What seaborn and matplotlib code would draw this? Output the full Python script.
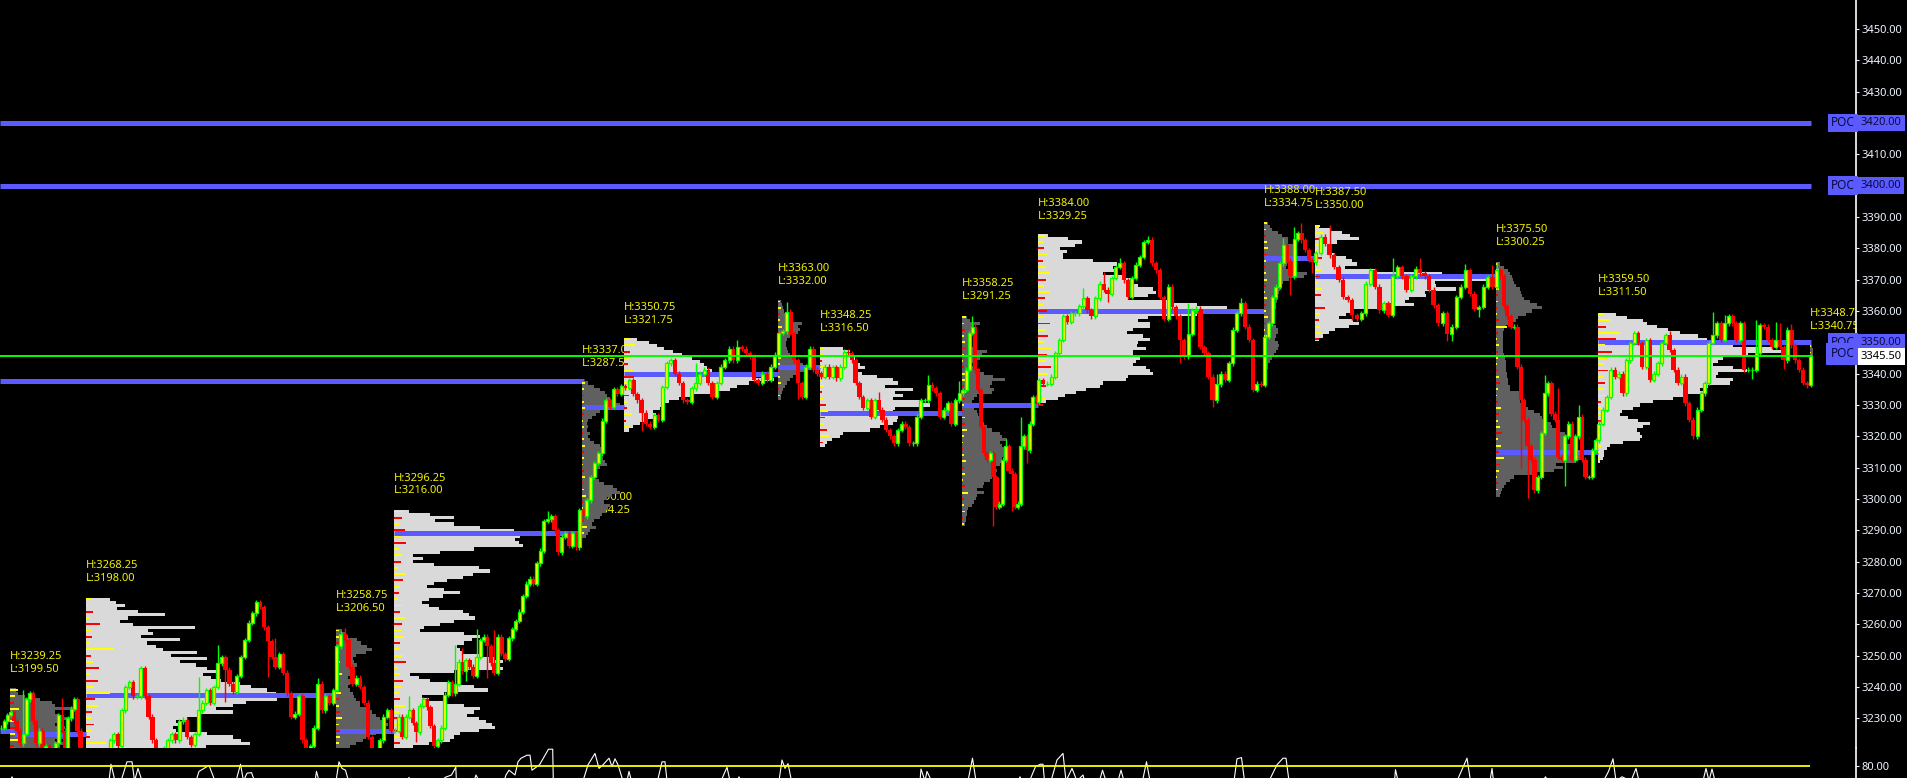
import numpy as np
import pandas as pd
import matplotlib
matplotlib.use("Agg")
import matplotlib.pyplot as plt
import seaborn as sns

# session start positions on the time axis (last one closes the last session)
sess_x = [0, 86, 336, 394, 582, 624, 778, 820, 962, 1038, 1264, 1315, 1496, 1598, 1810, 1813]
prof_x = [10, 86, 336, 394, 582, 624, 778, 820, 962, 1038, 1264, 1315, 1496, 1598, 1810]
sess_top = [3239, 3268, 3258, 3296, 3337, 3351, 3363, 3348, 3358, 3384, 3388, 3387, 3375, 3359, 3348.75]
sess_dark = [1, 0, 1, 0, 1, 0, 1, 0, 1, 0, 1, 0, 1, 0, 1]

# H / L labels
lab_x = [10, 86, 336, 394, 582, 581, 624, 778, 820, 962, 1038, 1264, 1315, 1496, 1598, 1810]
lab_h = [3239.25, 3268.25, 3258.75, 3296.25, 3337.00, 3290.00, 3350.75, 3363.00, 3348.25, 3358.25, 3384.00, 3388.00, 3387.50, 3375.50, 3359.50, 3348.75]
lab_l = [3199.50, 3198.00, 3206.50, 3216.00, 3287.50, 3284.25, 3321.75, 3332.00, 3316.50, 3291.25, 3329.25, 3334.75, 3350.00, 3300.25, 3311.50, 3340.75]

# point of control segments
poc_start = [0, 14, 86, 336, 394, 0, 582, 624, 778, 820, 962, 1038, 1264, 1315, 1496, 1598]
poc_end = [14, 86, 336, 394, 582, 584, 624, 778, 820, 962, 1038, 1264, 1315, 1496, 1598, 1811]
poc_price = [3226, 3225, 3237.5, 3226, 3289, 3337.5, 3329.5, 3340, 3342, 3327.5, 3330, 3360, 3377, 3371, 3315, 3350]
naked_poc = [3420, 3400]
last_price = 3345.5

# volume profile widths, one row per point from the session top down
prof_0 = [6, 8, 15, 30, 42, 45, 70, 45, 50, 62, 50, 45, 55, 50, 60, 55, 45, 60, 50, 45, 40]
prof_1 = [24, 30, 39, 31, 52, 79, 42, 34, 47, 109, 62, 67, 55, 94, 61, 70, 77, 111, 85, 121, 94, 110, 121, 131, 117, 125, 135, 154, 165, 181, 190, 197, 191, 160, 147, 130, 147, 115, 101, 90, 95, 87, 90, 121, 147, 155, 164, 120, 100]
prof_2 = [6, 10, 12, 21, 25, 31, 36, 30, 20, 17, 18, 21, 18, 17, 14, 12, 14, 14, 12, 14, 17, 18, 20, 24, 24, 30, 36, 40, 44, 50, 52, 47, 47, 40, 30, 27, 20, 14]
prof_3 = [15, 36, 60, 41, 60, 86, 120, 134, 126, 121, 125, 129, 80, 46, 19, 29, 19, 40, 85, 96, 79, 69, 53, 40, 33, 50, 66, 49, 35, 28, 35, 45, 69, 75, 81, 60, 46, 30, 26, 70, 86, 78, 70, 63, 66, 69, 85, 100, 109, 105, 109, 60, 16, 25, 36, 60, 80, 94, 50, 28, 35, 53, 70, 86, 80, 73, 85, 92, 98, 101, 85, 66, 60, 56, 35, 19]
prof_4 = [6, 12, 18, 23, 25, 28, 32, 38, 30, 18, 14, 10, 6, 5, 6, 5, 8, 6, 8, 12, 18, 20, 21, 20, 21, 23, 25, 18, 15, 14, 13, 17, 22, 31, 35, 38, 30, 25, 22, 28, 26, 24, 20, 18, 12, 10, 14, 8, 6, 4]
prof_5 = [13, 25, 33, 40, 49, 58, 68, 76, 80, 83, 88, 93, 130, 150, 125, 113, 106, 93, 70, 55, 45, 38, 36, 29, 32, 36, 20, 16, 9, 5]
prof_6 = [3, 4, 5, 6, 8, 10, 15, 24, 20, 22, 20, 12, 9, 8, 8, 9, 10, 12, 14, 20, 25, 30, 28, 22, 15, 12, 9, 7, 5, 4, 3, 3]
prof_7 = [23, 30, 33, 35, 36, 40, 45, 37, 42, 57, 73, 78, 65, 93, 75, 83, 73, 100, 110, 75, 73, 83, 78, 77, 73, 60, 50, 23, 20, 12, 7, 5]
prof_8 = [5, 8, 18, 12, 10, 10, 9, 8, 8, 10, 12, 25, 20, 18, 12, 10, 11, 18, 22, 31, 43, 30, 28, 32, 30, 15, 12, 10, 10, 12, 15, 16, 18, 20, 22, 25, 30, 38, 40, 45, 38, 40, 45, 42, 45, 40, 43, 38, 30, 35, 31, 30, 28, 22, 21, 15, 22, 15, 14, 12, 10, 6, 5, 5, 4, 4, 3]
prof_9 = [10, 30, 44, 37, 22, 29, 25, 25, 55, 79, 75, 79, 65, 85, 95, 90, 100, 115, 118, 110, 90, 130, 159, 189, 170, 159, 110, 100, 112, 112, 95, 89, 105, 112, 100, 99, 108, 95, 95, 102, 98, 95, 108, 112, 115, 90, 88, 65, 62, 48, 38, 27, 20, 8]
prof_10 = [4, 6, 8, 14, 18, 24, 24, 29, 29, 29, 29, 26, 23, 23, 22, 30, 43, 40, 25, 19, 17, 16, 15, 14, 14, 13, 12, 12, 10, 9, 8, 8, 9, 12, 14, 14, 12, 11, 14, 15, 14, 12, 10, 8, 6, 4, 4, 3]
prof_11 = [4, 15, 27, 35, 44, 22, 15, 14, 15, 20, 31, 37, 42, 30, 60, 127, 139, 181, 120, 121, 141, 110, 111, 94, 90, 99, 77, 38, 31, 24, 38, 44, 34, 20, 14, 8, 4]
prof_12 = [4, 8, 12, 14, 16, 17, 18, 20, 24, 25, 26, 28, 34, 41, 46, 36, 30, 22, 20, 15, 10, 8, 7, 7, 7, 7, 7, 7, 7, 8, 9, 10, 10, 10, 10, 11, 11, 12, 12, 14, 14, 25, 26, 25, 24, 28, 32, 38, 44, 46, 49, 55, 56, 60, 69, 71, 70, 71, 75, 78, 84, 85, 84, 80, 60, 67, 58, 40, 18, 14, 10, 8, 6, 5, 4]
prof_13 = [18, 29, 45, 49, 59, 70, 82, 100, 109, 120, 135, 175, 190, 150, 125, 120, 115, 135, 149, 120, 118, 135, 132, 110, 102, 105, 89, 75, 55, 42, 35, 24, 22, 30, 40, 52, 45, 39, 42, 44, 42, 25, 12, 9, 6, 6, 5, 2]
prof_14 = [2, 3, 3, 3, 3, 3, 3, 2, 2]
profiles = [prof_0, prof_1, prof_2, prof_3, prof_4, prof_5, prof_6, prof_7, prof_8, prof_9, prof_10, prof_11, prof_12, prof_13, prof_14]

# delta at the left of each profile, every 2 points: positive yellow, negative red
delta_0 = [8, 5, -4, 9, -3, 6, -7, 5, 10, -4, 6]
delta_1 = [6, 3, -7, 4, -14, 5, -6, 4, 28, -5, 7, -13, 4, -12, 8, 24, -9, 12, -6, 5, -8, 5, -4, 20]
delta_2 = [3, 5, -4, 3, -2, 4, -3, 6, 3, -4, 5, -3, 3, -4, 6, 3, -4, 4, 3]
delta_3 = [9, -8, 5, -11, 7, -12, 5, 8, -7, 4, 12, -9, 6, -5, 4, 8, -6, 11, -8, 7, 10, -6, 5, 8, -12, 4, 6, -9, 7, 5, -6, 11, 5, -7, 8, -4, 10, -6]
delta_4 = [3, 2, -2, 2, 3, -2, 1, 2, -1, 2, 3, -2, 2, 1, -2, 3, -1, 2, 4, -1, 1, 3, -2, 5, 2]
delta_5 = [6, 11, -6, 5, -4, 9, -10, 3, 7, -5, 4, -3, 8, -2, 6]
delta_6 = [2, 3, -2, 2, 4, -3, 2, 1, -2, 3, 2, -1, 2, 3, -1, 2]
delta_7 = [4, 3, -2, 6, -3, 2, 4, -2, 3, -6, 8, -5, 4, -7, 9, -3]
delta_8 = [4, 2, -3, 2, 3, -4, 2, 1, -2, 3, 3, -2, 4, -3, 2, -1, 3, -3, 5, 2, 1, -1, 2, 4, -2, 3, 1, -3, 6, -2, 2, 3, -1, 2]
delta_9 = [7, 5, -6, 10, -5, 8, 12, -8, 6, 11, -7, 5, -9, 6, -12, 8, -10, 6, 14, -9, 8, -13, 10, 6, -8, 4, 7, -5]
delta_10 = [3, 2, -2, 3, 4, -3, 2, -1, 2, 3, -2, 1, 3, -2, 2, 4, -2, 1, 3, -1, 2, 3, -2, 1]
delta_11 = [5, 8, -4, 6, 3, -7, 4, 6, -5, 3, 7, -6, 9, -10, 5, -4, 5, 6, -4]
delta_12 = [2, 3, -2, 1, 3, -2, 2, -1, 1, -3, 11, -2, 1, 3, -2, 2, 1, -2, 3, -4, 2, 1, -2, 5, -3, 2, 4, -6, 2, 5, -3, 8, -4, 3, 1, -2, 2]
delta_13 = [6, 12, -8, 22, -18, 7, -14, 9, 6, -10, 5, -7, 6, 8, -3, 4, 6, -3, 4, 3, -2, 3, 2, 1]
delta_14 = [1, 1, 1, 1]
deltas = [delta_0, delta_1, delta_2, delta_3, delta_4, delta_5, delta_6, delta_7, delta_8, delta_9, delta_10, delta_11, delta_12, delta_13, delta_14]

# closes per session, open is the previous close
closes_0 = [3227, 3229, 3231, 3232, 3229, 3226, 3222, 3225, 3236, 3238, 3229, 3222, 3226, 3219, 3221, 3218, 3216, 3222, 3231, 3226, 3219, 3230, 3233, 3236, 3226, 3219, 3218]
closes_1 = [3215, 3212, 3208, 3205, 3210, 3216, 3223, 3225, 3221, 3232.5, 3240, 3241.5, 3237, 3237, 3246, 3237, 3230.5, 3223, 3219, 3216, 3220.5, 3223, 3225, 3223, 3229, 3229.5, 3224, 3221.5, 3225, 3232.5, 3235, 3239, 3235, 3240, 3247.5, 3249.5, 3245.5, 3241, 3238.5, 3243.5, 3249.5, 3255, 3260.5, 3263.5, 3267, 3265.5, 3259, 3254.5, 3249.5, 3246.5, 3250.5, 3244.5, 3238, 3230.5, 3231.5, 3237, 3223, 3219, 3221, 3227, 3241, 3232.5, 3237, 3235, 3239]
closes_2 = [3253, 3257, 3255, 3246.5, 3241, 3243, 3240, 3235, 3224, 3219, 3218, 3223, 3230.5, 3232.5, 3226]
closes_3 = [3226, 3230.5, 3224, 3230.5, 3232.5, 3228.5, 3225.5, 3234, 3236, 3233.5, 3227.5, 3221, 3223, 3227, 3237.5, 3241.5, 3238, 3241, 3248, 3245, 3248.5, 3246.5, 3243.5, 3249.5, 3255, 3256, 3253, 3247.5, 3244.5, 3256, 3250.5, 3249, 3255.5, 3258.5, 3261, 3264, 3269, 3273, 3274.5, 3273, 3279.5, 3283.5, 3293, 3293.5, 3294.5, 3290, 3283, 3288, 3289, 3285, 3289, 3284.5, 3296.5]
closes_4 = [3294.5, 3299.5, 3307, 3311.5, 3314.5, 3325, 3331.5, 3329.5, 3335, 3333.5, 3336]
closes_5 = [3335.5, 3338, 3333.5, 3331.5, 3327.5, 3324, 3323, 3326.75, 3325.25, 3335.75, 3343.25, 3344.25, 3340, 3337, 3331.5, 3331, 3335.25, 3337, 3340, 3341.25, 3337, 3332.5, 3337, 3342.25, 3344.25, 3348, 3344.25, 3348.5, 3348, 3346.5, 3345.5, 3338, 3337, 3340, 3338, 3342.25, 3346]
closes_6 = [3353, 3353.5, 3359.75, 3353, 3344.25, 3337, 3332.5, 3342.25, 3348, 3341.25, 3340]
closes_7 = [3339, 3342.25, 3339, 3342, 3338.5, 3342.25, 3347, 3346.5, 3344.25, 3337, 3332.5, 3329, 3331.5, 3326.25, 3331.5, 3328.5, 3325.25, 3322, 3320, 3317.75, 3322, 3324, 3323, 3317.75, 3317.75, 3326.25, 3331.5, 3331.5, 3336.5, 3335.25, 3333.75, 3326.25, 3328.5, 3330.5, 3324, 3331.5, 3333.75]
closes_8 = [3334.75, 3341.25, 3353, 3355, 3341, 3334.75, 3323, 3314.5, 3312.5, 3314.5, 3307, 3297.5, 3298.5, 3312.5, 3316.75, 3309, 3308, 3297.5, 3298.5, 3316.75, 3320, 3315.5, 3324, 3332.5, 3331]
closes_9 = [3338, 3336.75, 3336.75, 3339, 3346.5, 3350.75, 3358.25, 3356.5, 3359.25, 3359.25, 3361.5, 3364, 3360.25, 3358.25, 3364, 3368.75, 3366.75, 3365.5, 3370.5, 3374, 3375.25, 3369.75, 3364.5, 3370.5, 3374.75, 3377.25, 3382, 3382.75, 3375.25, 3373, 3364.5, 3357.5, 3367.75, 3361.25, 3358.25, 3350.75, 3345.5, 3352.75, 3360.25, 3360.75, 3348.5, 3346.5, 3339, 3331.5, 3336.75, 3340, 3338, 3343.25, 3354, 3359.25, 3362.5, 3355, 3350.75, 3334.75, 3336.75, 3336.5]
closes_10 = [3351.75, 3356, 3364.5, 3367.75, 3375.25, 3381, 3376, 3371, 3383, 3384.75, 3382.5, 3379.5, 3376.25, 3375.5]
closes_11 = [3378.5, 3383.75, 3381.5, 3377.75, 3374, 3370, 3364.5, 3363.5, 3358.75, 3357.5, 3359.25, 3368.75, 3373, 3367.75, 3360.25, 3362.5, 3358.75, 3371, 3374, 3371, 3366.75, 3371, 3373.5, 3372, 3371, 3366.75, 3361.75, 3356, 3359.25, 3352.75, 3355, 3364.5, 3367.75, 3373, 3365.5, 3360.75, 3361.25, 3367.75, 3370.75, 3367.75]
closes_12 = [3373, 3371, 3361.5, 3358.25, 3355, 3355, 3342.25, 3331.5, 3325.25, 3316.75, 3312.5, 3302.75, 3307, 3321, 3333.75, 3337, 3327.25, 3325.25, 3313.5, 3312.5, 3320, 3324, 3312.5, 3320, 3326.25, 3312.5, 3307, 3307, 3315.5, 3318.75]
closes_13 = [3324, 3328.5, 3332.5, 3341.25, 3339, 3340, 3333.75, 3344.25, 3349.75, 3353, 3349.75, 3342.25, 3350.75, 3338, 3340, 3343.25, 3349.75, 3352.25, 3347.5, 3341.25, 3337, 3339, 3330.5, 3325.25, 3320, 3328.5, 3333.75, 3337, 3349.75, 3352.25, 3356, 3350.75, 3356, 3358.25, 3356, 3350.75, 3356, 3341.25, 3341.25, 3341.25, 3346.5, 3355.5, 3355, 3350.75, 3348.5, 3350.75, 3348.5, 3344.25, 3354, 3349, 3344.25, 3341.25, 3337, 3336.5]
closes_14 = [3345.5]
closes = [closes_0, closes_1, closes_2, closes_3, closes_4, closes_5, closes_6, closes_7, closes_8, closes_9, closes_10, closes_11, closes_12, closes_13, closes_14]

# prominent wicks, time position and extreme reached
wick_hi_x = [23, 60, 197, 218, 265, 276, 317, 346, 408, 454, 462, 477, 493, 548, 695, 738, 788, 808, 880, 928, 958, 973, 1005, 1008, 1020, 1082, 1103, 1120, 1148, 1162, 1190, 1217, 1240, 1283, 1295, 1303, 1328, 1394, 1421, 1467, 1492, 1497, 1544, 1557, 1580, 1635, 1671, 1712, 1725, 1758, 1775, 1780, 1791]
wick_hi = [3239, 3236.5, 3243.25, 3253.5, 3259.5, 3255.75, 3243, 3258.75, 3237, 3253.5, 3252.5, 3258.5, 3258.25, 3296, 3343.25, 3350.75, 3363, 3348.75, 3334.25, 3339.5, 3337.5, 3358.25, 3319.25, 3311.5, 3326.25, 3367.25, 3372.5, 3376.75, 3384, 3369.5, 3362.5, 3340, 3364, 3383.25, 3386.75, 3388, 3387.5, 3376.75, 3377, 3375, 3374.75, 3375.5, 3339.5, 3335.25, 3330, 3353.75, 3353.5, 3359.75, 3358.75, 3357, 3356.5, 3356, 3355.75]
wick_lo_x = [224, 268, 415, 447, 467, 487, 643, 800, 893, 911, 994, 1012, 1026, 1064, 1108, 1180, 1211, 1222, 1289, 1311, 1350, 1445, 1452, 1479, 1520, 1528, 1564, 1682, 1753, 1783, 1808]
wick_lo = [3235.25, 3243.25, 3222.5, 3237, 3242, 3242.75, 3321.75, 3332, 3317.25, 3316.75, 3291.25, 3296.25, 3311.5, 3355.25, 3363, 3343.25, 3329.5, 3335.75, 3365, 3372, 3357, 3350.25, 3350.25, 3358, 3310, 3300.25, 3304, 3336.75, 3338.25, 3341.5, 3335.5]

# lower oscillator, only the humps above the panel floor are visible
osc_x = [10, 12, 14, 109, 111, 115, 121, 127, 132, 134.5, 138, 142,
         196, 199, 209, 215, 236, 240.5, 243.5, 247, 251.5, 254.5, 315, 316.5, 319,
         336, 339, 342, 345.5, 348.5, 407, 409, 411, 443, 445, 451.5, 455.8, 456.4,
         474, 476, 479, 504, 506, 509, 515, 518, 521, 527, 530, 532, 539.5, 548.5, 552.7, 553.3,
         583, 588, 595, 599, 603, 609, 612, 615, 618, 623, 627, 629, 631.5,
         657.5, 662, 665, 667, 721, 727, 730, 737, 739, 741, 779, 782, 785, 788, 791.5,
         920, 921, 925, 927, 931.5, 968, 972.5, 976, 1018, 1020, 1022,
         1029.5, 1035.5, 1040.5, 1043, 1044.5, 1051, 1057, 1063, 1066, 1072, 1077, 1083, 1084.5,
         1099.5, 1102.5, 1106, 1118, 1121, 1124, 1142.5, 1146.5, 1150,
         1234, 1237, 1241.5, 1244.5, 1269, 1277, 1283, 1286, 1289, 1394.5, 1395.5, 1398,
         1457, 1467, 1470.5, 1490, 1492, 1493.5, 1543, 1545.5, 1548,
         1603.5, 1608.5, 1613, 1616, 1622, 1631, 1636, 1639, 1703, 1706, 1709, 1712, 1715, 1856]
osc_val = [55, 62, 55, 55, 83, 55, 55, 87, 87, 55, 76, 55,
           55, 71, 81, 55, 55, 83, 55, 68, 69, 55, 55, 71, 55,
           55, 87, 76, 73, 55, 55, 61, 55, 55, 61, 65, 78, 55,
           55, 65, 55, 55, 65, 73, 65, 87, 93, 98, 98, 73, 82, 108, 108, 55,
           55, 82, 101, 76, 82, 93, 79, 92, 82, 55, 55, 71, 55,
           55, 87, 87, 55, 55, 78, 55, 55, 62, 55, 55, 90, 76, 84, 55,
           55, 75, 55, 71, 55, 55, 93, 55, 55, 62, 55,
           55, 79, 83, 83, 55, 55, 90, 101, 55, 76, 55, 65, 55,
           55, 73, 55, 55, 73, 55, 55, 87, 55,
           55, 92, 94, 55, 55, 82, 93, 93, 55, 55, 74, 55,
           55, 93, 55, 55, 76, 55, 55, 62, 55,
           55, 71, 92, 55, 62, 55, 76, 55, 55, 76, 55, 75, 55, 55]

# right axis
price_ticks = list(range(3230, 3460, 10))
boxed_ticks = [3420, 3400, 3350]

BLUE = "#5a5aff"
GREEN = "#00ff00"
YELLOW = "#ffff00"
RED = "#ff0000"
TXT = "#eef4ff"
INK = "#0a0a40"

sns.set_theme(style="dark", rc={"axes.facecolor": "black", "figure.facecolor": "black", "axes.grid": False})
plt.rcParams["font.family"] = ["Noto Sans", "DejaVu Sans"]

fig = plt.figure(figsize=(19.08, 7.78), dpi=100)
ax = fig.add_axes([0, 30 / 778, 1856 / 1908, 748 / 778])
ax2 = fig.add_axes([0, 0, 1856 / 1908, 30 / 778])

ax.set_xlim(0, 1856)
ax.set_ylim(3220.5, 3459.25)

# the two untouched POC lines stay under the labels
naked_df = pd.DataFrame({"x": [0, 1811, 0, 1811], "price": [naked_poc[0], naked_poc[0], naked_poc[1], naked_poc[1]],
                         "seg": [0, 0, 1, 1]})
sns.lineplot(data=naked_df, x="x", y="price", units="seg", estimator=None, color=BLUE, linewidth=3.6,
             solid_capstyle="butt", legend=False, ax=ax, zorder=0.5)

# H / L labels sit under profiles and candles
for x, h, l in zip(lab_x, lab_h, lab_l):
    ax.annotate(f"H:{h:.2f}", (x, h), xytext=(0, 23.5), textcoords="offset points", color="#f2f200",
                fontsize=8, va="center", zorder=1, annotation_clip=False, clip_on=True)
    ax.annotate(f"L:{l:.2f}", (x, h), xytext=(0, 14.2), textcoords="offset points", color="#f2f200",
                fontsize=8, va="center", zorder=1, annotation_clip=False, clip_on=True)

# volume profiles
for i, prof in enumerate(profiles):
    rows = sess_top[i] - np.arange(len(prof))
    col = "#606060" if sess_dark[i] else "#d9d9d9"
    ax.barh(rows, prof, height=1.0, left=prof_x[i], color=col, linewidth=0, zorder=2)
    d = np.array(deltas[i])
    d_rows = sess_top[i] - 2 * np.arange(len(d))
    ax.barh(d_rows[d > 0], d[d > 0], height=0.6, left=prof_x[i], color=YELLOW, linewidth=0, zorder=3)
    ax.barh(d_rows[d < 0], -d[d < 0], height=0.6, left=prof_x[i], color=RED, linewidth=0, zorder=3)

# POC lines
poc_df = pd.DataFrame({"x": poc_start + poc_end, "price": poc_price + poc_price,
                       "seg": list(range(len(poc_price))) * 2})
sns.lineplot(data=poc_df, x="x", y="price", units="seg", estimator=None, color=BLUE, linewidth=3.6,
             solid_capstyle="butt", legend=False, ax=ax, zorder=2.5)

# candles
xs, cs = [], []
for i, c in enumerate(closes):
    xs.extend(np.linspace(sess_x[i], sess_x[i + 1], len(c), endpoint=False) + 1)
    cs.extend(c)
xs = np.array(xs)
cs = np.array(cs)
os_ = np.r_[cs[0], cs[:-1]]
highs = np.maximum(os_, cs) + 0.75
lows = np.minimum(os_, cs) - 0.75
for x, v in zip(wick_hi_x, wick_hi):
    k = np.abs(xs - x).argmin()
    highs[k] = max(highs[k], v)
for x, v in zip(wick_lo_x, wick_lo):
    k = np.abs(xs - x).argmin()
    lows[k] = min(lows[k], v)

up = cs >= os_
ax.vlines(xs[~up], lows[~up], highs[~up], color=RED, linewidth=1, zorder=4)
ax.bar(xs[~up], (os_ - cs)[~up], bottom=cs[~up], width=4.4, color=RED, linewidth=0, zorder=4)
ax.vlines(xs[up], lows[up], highs[up], color=GREEN, linewidth=1, zorder=4.1)
ax.bar(xs[up], (cs - os_)[up], bottom=os_[up], width=3, color=YELLOW, edgecolor=GREEN, linewidth=0.9, zorder=4.2)

# last price line
ax.hlines(last_price, 0, 1811, color=GREEN, linewidth=1.4, zorder=5)

# axis
ax.set_xticks([])
ax.set_xlabel("")
ax.set_ylabel("")
ax.yaxis.tick_right()
ax.set_yticks(price_ticks)
ax.set_yticklabels([f"{p}.00" for p in price_ticks])
ax.tick_params(axis="y", colors=TXT, length=2.2, width=0.8, pad=1.5, labelsize=8)
for name, sp in ax.spines.items():
    sp.set_visible(name == "right")
ax.spines["right"].set_color("white")
ax.spines["right"].set_linewidth(1.2)

ax.text(1861, 3460, "3460.00", color=TXT, fontsize=8, va="center", ha="left")
ax.text(1861, 3343.5, "3343.50", color=GREEN, fontsize=8, va="center", ha="left", zorder=6)

box = dict(boxstyle="square,pad=0.25", fc=BLUE, ec="none")
for p in boxed_ticks:
    ax.text(1861, p, f"{p}.00", color=INK, fontsize=8, va="center", ha="left", bbox=box, zorder=7)
    ax.text(1855, p, "POC", color=INK, fontsize=8.5, va="center", ha="right", bbox=box, zorder=7)
ax.text(1855, 3346.3, "POC", color=INK, fontsize=8.5, va="center", ha="right", bbox=dict(boxstyle="square,pad=0.4", fc=BLUE, ec="none"), zorder=7)
ax.text(1861, last_price, f"{last_price:.2f}", color="black", fontsize=8, va="center", ha="left",
        bbox=dict(boxstyle="square,pad=0.25", fc="white", ec="none"), zorder=8)

# lower panel
osc_df = pd.DataFrame({"x": osc_x, "val": osc_val})
sns.lineplot(data=osc_df, x="x", y="val", color="white", linewidth=0.8, sort=False, estimator=None, ax=ax2)
ax2.hlines(80, 0, 1810, color=YELLOW, linewidth=1.3, zorder=5)
ax2.set_xlim(0, 1856)
ax2.set_ylim(60, 110)
ax2.set_xticks([])
ax2.set_xlabel("")
ax2.set_ylabel("")
ax2.yaxis.tick_right()
ax2.set_yticks([80])
ax2.set_yticklabels(["80.00"])
ax2.tick_params(axis="y", colors=TXT, length=2.2, width=0.8, pad=1.5, labelsize=8)
for name, sp in ax2.spines.items():
    sp.set_visible(name == "right")
ax2.spines["right"].set_color("white")
ax2.spines["right"].set_linewidth(1.2)

fig.savefig("out.png", dpi=100, facecolor="black")
